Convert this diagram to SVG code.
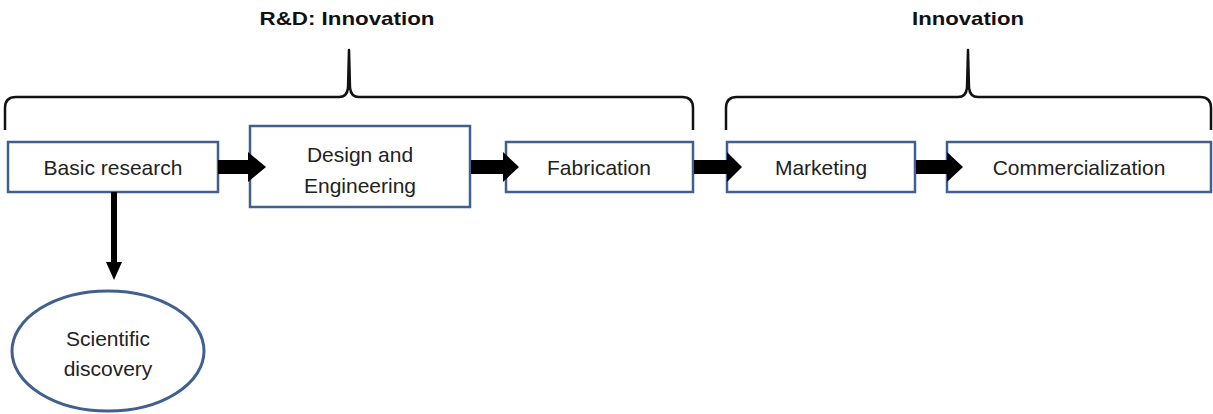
<svg xmlns="http://www.w3.org/2000/svg" width="1213" height="414" viewBox="0 0 1213 414">
<style>
.box{fill:#fff;stroke:#41608f;stroke-width:2.5}
.lbl{font-family:"Liberation Sans",Arial,sans-serif;font-size:21px;fill:#222;text-anchor:middle}
.ttl{font-family:"Liberation Sans",Arial,sans-serif;font-size:19px;font-weight:bold;fill:#111;text-anchor:middle}
.brace{fill:none;stroke:#111;stroke-width:2.5;stroke-linejoin:round}
.arr{fill:#000}
</style>
<rect width="1213" height="414" fill="#fff"/>
<g id="titles">
<text class="ttl" x="347" y="25" textLength="175" lengthAdjust="spacingAndGlyphs">R&amp;D: Innovation</text>
<text class="ttl" x="968" y="25" textLength="112" lengthAdjust="spacingAndGlyphs">Innovation</text>
</g>
<g id="braces">
<path class="brace" d="M5,130 L5,108 Q5,97 16,97 L339,97 Q347,97 348,88 L349,50 L350,88 Q351,97 359,97 L682,97 Q693,97 693,108 L693,130"/>
<path class="brace" d="M726,130 L726,108 Q726,97 737,97 L958,97 Q966,97 967,88 L968,50 L969,88 Q970,97 978,97 L1200,97 Q1211,97 1211,108 L1211,130"/>
</g>
<g id="basic-research">
<rect class="box" x="8" y="142" width="210" height="50"/>
<text class="lbl" x="113" y="175">Basic research</text>
</g>
<g id="design-engineering">
<rect class="box" x="250" y="126" width="220" height="81"/>
<text class="lbl" x="360" y="162">Design and</text>
<text class="lbl" x="360" y="193">Engineering</text>
</g>
<g id="fabrication">
<rect class="box" x="506" y="142" width="187" height="50"/>
<text class="lbl" x="599" y="175">Fabrication</text>
</g>
<g id="marketing">
<rect class="box" x="727" y="142" width="188" height="50"/>
<text class="lbl" x="821" y="175">Marketing</text>
</g>
<g id="commercialization">
<rect class="box" x="947" y="142" width="264" height="50"/>
<text class="lbl" x="1079" y="175">Commercialization</text>
</g>
<g id="scientific-discovery">
<ellipse cx="108" cy="351" rx="96" ry="60" fill="#fff" stroke="#41608f" stroke-width="3"/>
<text class="lbl" x="108" y="346">Scientific</text>
<text class="lbl" x="108" y="376">discovery</text>
</g>
<g id="connectors">
<polygon class="arr" points="218,160 248,160 248,152 266,167 248,182 248,174 218,174"/>
<polygon class="arr" points="471,160 503,160 503,152 519,167 503,182 503,174 471,174"/>
<polygon class="arr" points="694,160 727,160 727,152 742,167 727,182 727,174 694,174"/>
<polygon class="arr" points="916,160 947,160 947,152 963,167 947,182 947,174 916,174"/>
<polygon class="arr" points="111,192 117,192 117,262 122,262 114,280 106,262 111,262"/>
</g>
</svg>
